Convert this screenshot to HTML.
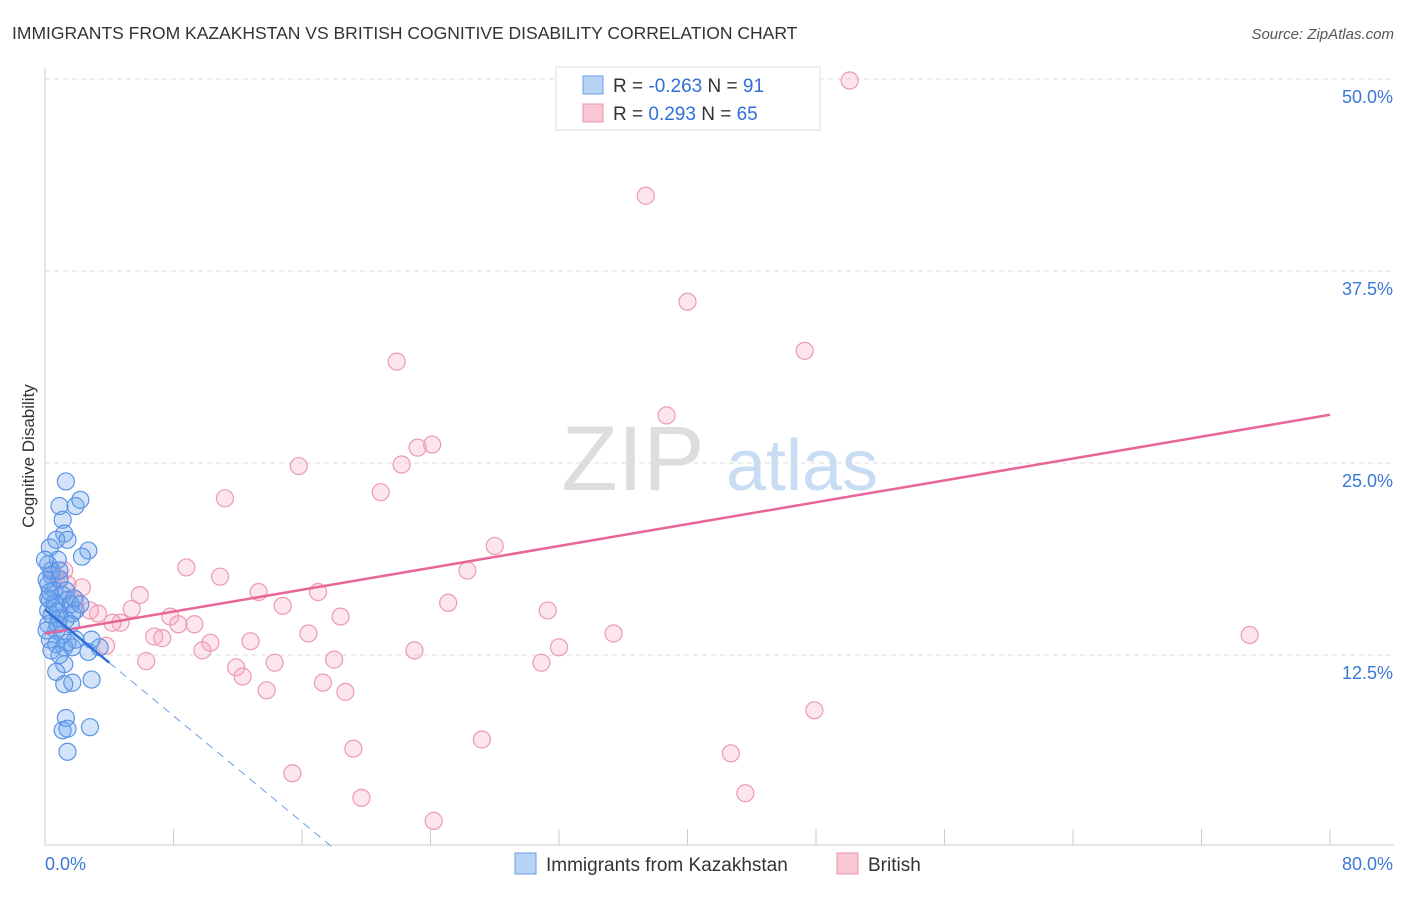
<!DOCTYPE html>
<html><head><meta charset="utf-8"><style>
body{margin:0;background:#fff;font-family:"Liberation Sans",sans-serif;}
svg text{font-family:"Liberation Sans",sans-serif;}
</style></head><body>
<svg id="chart" width="1406" height="892" xmlns="http://www.w3.org/2000/svg">
<text x="12" y="39" font-size="17.5" fill="#333">IMMIGRANTS FROM KAZAKHSTAN VS BRITISH COGNITIVE DISABILITY CORRELATION CHART</text>
<text x="1394" y="39" font-size="15" fill="#555" text-anchor="end" font-style="italic">Source: ZipAtlas.com</text>
<g>
<text x="633" y="490" font-size="92" fill="#ddd" font-family="Liberation Serif" text-anchor="middle">ZIP</text>
<text x="802" y="490" font-size="72" fill="#c8dcf4" text-anchor="middle">atlas</text>
</g>
<g id="grid"></g>
<g id="axes"></g>
<g id="marks"></g>
<text transform="translate(34,456) rotate(-90)" font-size="17" fill="#333" text-anchor="middle">Cognitive Disability</text>
<g>
<rect x="556" y="67" width="264" height="63" fill="#fff" stroke="#ddd"/>
<rect x="583" y="76" width="20" height="18" fill="#b9d3f7" stroke="#6a9ee6"/>
<rect x="583" y="104" width="20" height="18" fill="#f9c6d4" stroke="#ea94ad"/>
<text x="613" y="92" font-size="19" fill="#333">R = <tspan fill="#2f6fd8">-0.263</tspan>   N = <tspan fill="#2f6fd8">91</tspan></text>
<text x="613" y="120" font-size="19" fill="#333">R =  <tspan fill="#2f6fd8">0.293</tspan>   N = <tspan fill="#2f6fd8">65</tspan></text>
</g>
<g>
<rect x="515" y="853" width="21" height="21" fill="#b9d3f7" stroke="#6a9ee6"/>
<text x="546" y="871" font-size="19" fill="#333">Immigrants from Kazakhstan</text>
<rect x="837" y="853" width="21" height="21" fill="#f9c6d4" stroke="#ea94ad"/>
<text x="868" y="871" font-size="19" fill="#333">British</text>
</g>
</svg>
<script>
const yTicks=[12.5,25,37.5,50];
const yTickLabels=["12.5%","25.0%","37.5%","50.0%"];
const xTicks=[0,8,16,24,32,40,48,56,64,72,80];
const xTickLabels=["0.0%","80.0%"];
const blueX=[1.3,0.9,1.9,2.2,1.1,1.2,0.7,1.4,2.7,0.3,2.3,0.8,0.2,0.4,0.9,0.2,0.6,1.1,1.4,0.3,0.7,1.6,1.9,0.2,0.4,0.9,1.3,1.7,0.2,0.7,1.1,0.3,1.4,1.9,2.9,0.7,1.2,1.7,2.7,3.4,1.2,0.7,1.2,1.7,2.9,1.3,1.1,1.4,2.8,1.4,0.2,0.6,0.3,0.8,0.1,0.4,0.9,0.0,1.3,1.8,2.2,0.8,1.6,0.4,0.9,0.1];
const blueY=[23.8,22.2,22.2,22.6,21.3,20.4,20.0,20.0,19.3,19.5,18.9,18.7,18.4,17.7,17.4,17.1,16.7,16.4,16.1,16.1,15.8,15.8,15.4,15.4,15.1,14.9,14.8,15.2,14.5,14.1,13.8,13.5,13.3,13.5,13.5,13.2,13.0,13.0,12.7,13.0,11.9,11.4,10.6,10.7,10.9,8.4,7.6,7.7,7.8,6.2,16.2,15.9,16.6,15.3,17.4,18.0,18.0,18.7,16.7,16.2,15.8,14.5,14.5,12.8,12.5,14.1];
const pinkX=[50.1,37.4,40.0,21.9,47.3,38.7,24.1,23.2,22.2,15.8,20.9,11.2,28.0,8.8,26.3,10.9,17.0,13.3,5.9,25.1,14.8,31.3,5.4,7.8,18.4,3.3,4.7,4.2,8.3,9.3,16.4,35.4,75.0,6.8,7.3,10.3,12.8,3.8,32.0,23.0,9.8,18.0,6.3,14.3,30.9,11.9,12.3,17.3,13.8,18.7,47.9,19.2,27.2,42.7,15.4,19.7,43.6,24.2,2.3,1.2,0.9,1.4,0.6,1.9,2.8];
const pinkY=[49.9,42.4,35.5,31.6,32.3,28.1,26.2,26.0,24.9,24.8,23.1,22.7,19.6,18.2,18.0,17.6,16.6,16.6,16.4,15.9,15.7,15.4,15.5,15.0,15.0,15.2,14.6,14.6,14.5,14.5,13.9,13.9,13.8,13.7,13.6,13.3,13.4,13.1,13.0,12.8,12.8,12.2,12.1,12.0,12.0,11.7,11.1,10.7,10.2,10.1,8.9,6.4,7.0,6.1,4.8,3.2,3.5,1.7,16.9,18.0,17.5,17.1,17.7,16.1,15.4];
const blueTrend=[15.46,-0.865]; // intercept, slope
const pinkTrend=[13.9,0.178];
const NS="http://www.w3.org/2000/svg";
const X=v=>45+v/80*1285, Y=v=>847-v/50*768;
function mk(parent,tag,attrs){const e=document.createElementNS(NS,tag);for(const k in attrs)e.setAttribute(k,attrs[k]);document.getElementById(parent).appendChild(e);return e;}
yTicks.forEach((t,i)=>{
 const g=mk('grid','line',{x1:45,x2:1394,y1:Y(t),y2:Y(t),stroke:'#ddd','stroke-dasharray':'5,4'});
 
 
 const tx=mk('axes','text',{x:1393,y:Y(t)+24,'font-size':18,fill:'#3a78d8','text-anchor':'end'});
 tx.textContent=yTickLabels[i];
 
 
});
const ax=mk('axes','line',{x1:45,x2:45,y1:68,y2:845,stroke:'#ccc'});


const bx=mk('axes','line',{x1:45,x2:1394,y1:845,y2:845,stroke:'#ccc'});


xTicks.forEach(t=>{
 const l=mk('axes','line',{x1:X(t),x2:X(t),y1:829,y2:845,stroke:'#ccc'});
 
 
});
[[0,'start',45],[80,'end',1393]].forEach((p,i)=>{
 const tx=mk('axes','text',{x:p[2],y:870,'font-size':18,fill:'#3a78d8','text-anchor':p[1]});
 tx.textContent=xTickLabels[i];
 
 
});
pinkX.forEach((x,i)=>{
 const c=mk('marks','circle',{cx:X(x),cy:Y(pinkY[i]),r:8.5,fill:'rgba(244,170,192,0.3)',stroke:'#ec9ab2','stroke-width':1.2});
 
 
});
blueX.forEach((x,i)=>{
 const c=mk('marks','circle',{cx:X(x),cy:Y(blueY[i]),r:8.5,fill:'rgba(110,165,240,0.3)',stroke:'#5b93e4','stroke-width':1.2});
 
 
});
const pl=mk('marks','line',{x1:X(0),y1:Y(pinkTrend[0]),x2:X(80),y2:Y(pinkTrend[0]+pinkTrend[1]*80),stroke:'#e8659a','stroke-width':2.5});


const bs=mk('marks','line',{x1:X(0),y1:Y(blueTrend[0]),x2:X(4),y2:Y(blueTrend[0]+blueTrend[1]*4),stroke:'#2f6fd8','stroke-width':2.5});


const xe=-blueTrend[0]/blueTrend[1];
const bd=mk('marks','line',{x1:X(4),y1:Y(blueTrend[0]+blueTrend[1]*4),x2:X(xe),y2:Y(0),stroke:'#6a9ee6','stroke-width':1,'stroke-dasharray':'8,6'});


</script>
</body></html>
